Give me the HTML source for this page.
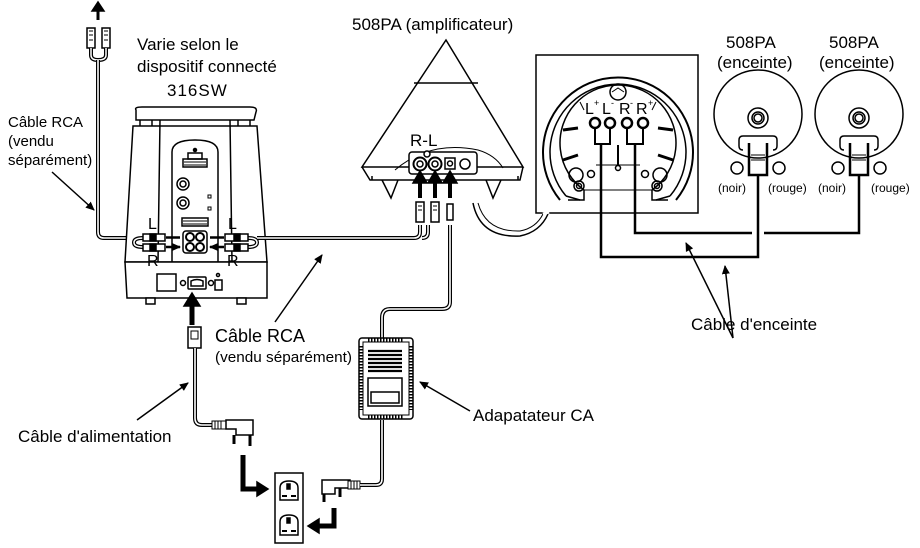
<!DOCTYPE html>
<html><head><meta charset="utf-8"><style>
html,body{margin:0;padding:0;background:#fff}
svg{display:block}
text{font-family:"Liberation Sans",Arial,sans-serif;fill:#000}
</style></head><body>
<svg width="920" height="548" viewBox="0 0 920 548" xmlns="http://www.w3.org/2000/svg">
<defs>
<marker id="ah" markerWidth="10" markerHeight="10" refX="8" refY="5" orient="auto" markerUnits="userSpaceOnUse"><path d="M0,1 L9,5 L0,9 Z" fill="#000"/></marker>
</defs>
<g fill="none" stroke="#000" stroke-width="1.5">

<!-- top-left RCA -->
<path d="M98,20 V10" stroke-width="3"/><path d="M92,11 L98,2 L104,11 Z" fill="#000"/>
<rect x="87" y="28" width="8" height="20" fill="#fff"/><rect x="102" y="28" width="8" height="20" fill="#fff"/>
<path d="M89,31h4M89,35h4M89,40h4M104,31h4M104,35h4M104,40h4" stroke-width="1"/>
<path d="M91,48 V55 Q91,60 98,60 Q106,60 106,55 V48" stroke-width="4"/>
<path d="M91,48 V55 Q91,60 98,60 Q106,60 106,55 V48" stroke="#fff" stroke-width="1.5"/>
<path d="M98,60 V232 Q98,238 104,238 H138" stroke-width="4"/>
<path d="M98,60 V232 Q98,238 104,238 H138" stroke="#fff" stroke-width="1.6"/>

<!-- subwoofer -->
<path d="M136,110 Q134,107 142,107 H250 Q258,107 256,112 L254,120 H136 Z" fill="#fff"/>
<path d="M140,120 V126 M250,120 V126 M152,120 V126 M238,120 V126"/>
<path d="M133,126 H257 L267,262 H125 Z" fill="#fff"/>
<path d="M160,120 L158,262 M230,120 L232,262"/>
<path d="M172,262 V152 Q172,140 195,140 Q218,140 218,152 V262" />
<path d="M125,262 H267 V298 H127 Z" fill="#fff"/>
<rect x="146" y="298" width="9" height="6" fill="#fff"/><rect x="237" y="298" width="9" height="6" fill="#fff"/>
<circle cx="195" cy="150" r="1.5" fill="#000"/>
<rect x="188" y="153" width="14" height="6"/><rect x="183" y="159" width="24" height="8"/>
<path d="M184,162h22M184,165h22" stroke-width="1"/>
<circle cx="183" cy="184" r="6"/><circle cx="183" cy="184" r="3"/>
<circle cx="183" cy="203" r="6"/><circle cx="183" cy="203" r="3"/>
<rect x="208" y="195" width="3" height="3" stroke-width="1"/><rect x="208" y="207" width="3" height="3" stroke-width="1"/>
<rect x="182" y="218" width="26" height="8"/><path d="M183,221h24M183,224h24" stroke-width="1"/>
<rect x="183" y="231" width="24" height="22" rx="3" fill="#fff"/>
<circle cx="190" cy="237" r="4" stroke-width="2"/><circle cx="200" cy="237" r="4" stroke-width="2"/>
<circle cx="190" cy="247" r="4" stroke-width="2"/><circle cx="200" cy="247" r="4" stroke-width="2"/>
<!-- left plugs -->
<path d="M143,238 Q134,238 134,242.5 Q134,247 143,247" stroke-width="4"/>
<path d="M143,238 Q134,238 134,242.5 Q134,247 143,247" stroke="#fff" stroke-width="1.5"/>
<rect x="143" y="234" width="22" height="7" fill="#fff"/><rect x="143" y="244" width="22" height="7" fill="#fff"/>
<rect x="150" y="234" width="6" height="7" fill="#000"/><rect x="150" y="244" width="6" height="7" fill="#000"/>
<path d="M166,237.5 H180 M166,247 H180" stroke-width="2.5" marker-end="url(#ah)"/>
<!-- right plugs -->
<path d="M248,238 Q257,238 257,242.5 Q257,247 248,247" stroke-width="4"/>
<path d="M248,238 Q257,238 257,242.5 Q257,247 248,247" stroke="#fff" stroke-width="1.5"/>
<rect x="225" y="234" width="23" height="7" fill="#fff"/><rect x="225" y="244" width="23" height="7" fill="#fff"/>
<rect x="234" y="234" width="6" height="7" fill="#000"/><rect x="234" y="244" width="6" height="7" fill="#000"/>
<path d="M224,237.5 H210 M224,247 H210" stroke-width="2.5" marker-end="url(#ah)"/>
<!-- base details -->
<rect x="157" y="274" width="19" height="17"/>
<circle cx="183" cy="283" r="2.5"/><rect x="188" y="277" width="18" height="12" rx="1"/>
<path d="M191,286 V281 Q197,278 203,281 V286 Z"/><circle cx="211" cy="283" r="2.5"/>
<rect x="215" y="280" width="7" height="10"/><circle cx="218" cy="275" r="1.5"/>
<!-- big up arrow -->
<path d="M192,325 V304" stroke-width="5"/><path d="M184,306 L192,293 L200,306 Z" fill="#000"/>

<!-- cable sub->amp -->
<path d="M257,238 H414 Q420,238 420,232 V225" stroke-width="4"/>
<path d="M257,238 H414 Q420,238 420,232 V225" stroke="#fff" stroke-width="1.6"/>
<path d="M428,225 V232 Q428,238 422,238" stroke-width="4"/>
<path d="M428,225 V232 Q428,238 422,238" stroke="#fff" stroke-width="1.6"/>

<!-- power cord -->
<rect x="188" y="327" width="13" height="21" fill="#fff"/><path d="M191,331h7v8h-7z" stroke-width="1"/>
<path d="M195,348 V418 Q195,425 202,425 H215" stroke-width="4"/>
<path d="M195,348 V418 Q195,425 202,425 H215" stroke="#fff" stroke-width="1.6"/>
<rect x="212" y="421" width="14" height="8" fill="#fff" stroke-width="1"/><path d="M215,421v8M218,421v8M221,421v8" stroke-width="1"/>
<path d="M226,420 H253 V435 H236 V429 H226 Z" fill="#fff"/>
<path d="M234,435 V444 M250,435 V446" stroke-width="3"/>
<!-- bent arrows -->
<path d="M243,455 V489 H258" stroke-width="5"/><path d="M257,482 L268,489 L257,496 Z" fill="#000"/>
<path d="M334,508 V526 H318" stroke-width="5"/><path d="M319,519 L308,526 L319,533 Z" fill="#000"/>
<!-- outlet -->
<rect x="275" y="473" width="28" height="70" fill="#fff"/>
<path d="M280,500 V488 Q280,481 289,481 Q298,481 298,488 V500 Z"/><rect x="287" y="484" width="3" height="5" fill="#000"/><path d="M282,496h5M291,496h5" stroke-width="2"/>
<path d="M280,535 V522 Q280,515 289,515 Q298,515 298,522 V535 Z"/><rect x="287" y="518" width="3" height="5" fill="#000"/><path d="M282,531h5M291,531h5" stroke-width="2"/>
<!-- adapter plug -->
<path d="M322,480 H350 V488 H335 V494 H322 Z" fill="#fff"/>
<path d="M324,494 V502 M340,488 V497" stroke-width="3"/>
<rect x="348" y="481" width="12" height="8" fill="#fff" stroke-width="1"/><path d="M351,481v8M354,481v8M357,481v8" stroke-width="1"/>
<path d="M360,485 H376 Q382,485 382,479 V420" stroke-width="4"/>
<path d="M360,485 H376 Q382,485 382,479 V420" stroke="#fff" stroke-width="1.6"/>
<!-- adapter -->
<path d="M382,338 V318 Q382,309 390,309 H442 Q450,309 450,302 V225" stroke-width="4"/>
<path d="M382,338 V318 Q382,309 390,309 H442 Q450,309 450,302 V225" stroke="#fff" stroke-width="1.6"/>
<rect x="359" y="338" width="54" height="81" rx="3" fill="#fff"/>
<rect x="363" y="342" width="46" height="73" stroke-width="1"/>
<path d="M361,346 V410 M411,346 V410" stroke-width="3" stroke-dasharray="1.5,1.5"/>
<path d="M368,340 H404 M368,417 H404" stroke-width="3" stroke-dasharray="1.5,1.5"/>
<path d="M368,351h34M368,355h34M368,359h34M368,363h34M368,367h34M368,371h34" stroke-width="2.2"/>
<rect x="368" y="378" width="34" height="28"/><rect x="371" y="392" width="28" height="11"/>
<path d="M470,411 L420,382" marker-end="url(#ah)"/>

<!-- amplifier -->
<path d="M446,40 L523,167 H362 Z" fill="#fff"/>
<path d="M414,83 H478"/>
<path d="M362,167 L370,180 H520 L523,167"/>
<path d="M372,180 V176 M518,180 V176"/>
<path d="M382,180 L391,198 L398,180 M486,180 L493,198 L501,180"/>
<path d="M395,170 Q430,140 478,150 Q495,155 503,168" stroke-width="1"/>
<rect x="409" y="152" width="68" height="22" rx="3" fill="#fff"/>
<circle cx="420" cy="164" r="6.5" stroke-width="2"/><circle cx="420" cy="164" r="3"/>
<circle cx="435" cy="164" r="6.5" stroke-width="2"/><circle cx="435" cy="164" r="3"/>
<rect x="445" y="158" width="10" height="11"/><circle cx="450" cy="163.5" r="2.5"/>
<circle cx="465" cy="164" r="5"/>
<circle cx="427" cy="154" r="3" fill="#fff"/>
<path d="M420,198 V181 M435,198 V181 M450,198 V181" stroke-width="4"/>
<path d="M413,183 L420,171 L427,183 Z M428,183 L435,171 L442,183 Z M443,183 L450,171 L457,183 Z" fill="#000"/>
<rect x="416" y="202" width="8" height="20" fill="#fff"/><rect x="431" y="202" width="8" height="20" fill="#fff"/><rect x="447" y="204" width="6" height="16" fill="#fff"/>
<path d="M418,206h4M418,210h4M433,206h4M433,210h4" stroke-width="1"/>
<!-- callout curves -->
<path d="M473,203 Q480,238 520,236 Q540,232 548,214"/>
<path d="M478,203 Q486,232 520,231 Q536,228 543,214" stroke-width="1"/>

<!-- box -->
<rect x="536" y="55" width="162" height="158" fill="#fff"/>
<path d="M543,214 L549,212" stroke="#fff" stroke-width="3"/>
<path d="M560,200 A75,75 0 1 1 676,200" stroke-width="2"/>
<path d="M566,196 A68,68 0 1 1 670,196"/>
<path d="M580,200 L566,196 M656,200 L670,196"/>
<path d="M568,200 H584 V190 A58,58 0 1 1 652,190 V200 H668" />
<path d="M584,190 H652" stroke-width="1"/>
<circle cx="618" cy="92" r="8"/><path d="M612,92 L618,88 L624,92" stroke-width="1"/>
<circle cx="576" cy="175" r="7"/><circle cx="660" cy="175" r="7"/>
<circle cx="579" cy="186" r="5"/><circle cx="579" cy="186" r="2.5"/>
<circle cx="657" cy="186" r="5"/><circle cx="657" cy="186" r="2.5"/>
<circle cx="591" cy="174" r="3.5" fill="#fff"/><circle cx="645" cy="174" r="3.5" fill="#fff"/>
<path d="M563,130 L578,128 M563,160 L578,155 M673,130 L658,128 M673,160 L658,155" stroke-width="3"/>
<path d="M584,110 L580,102 M652,110 L656,102" stroke-width="1"/>
<path d="M596,165 H640" stroke-width="1"/><path d="M618,145 V167" stroke-width="2"/><circle cx="618" cy="168" r="2.5" fill="#fff"/>
<circle cx="595" cy="123" r="5" stroke-width="2.5"/><circle cx="610" cy="123" r="5" stroke-width="2.5"/>
<circle cx="627" cy="123" r="5" stroke-width="2.5"/><circle cx="643" cy="123" r="5" stroke-width="2.5"/>
<path d="M595,128 V144 H610 V128 M627,128 V144 H643 V128" stroke-width="2"/>
<!-- speaker cables -->
<path d="M601,144 V257 H758 V175" stroke-width="2.5"/>
<path d="M635,144 V233 H752 M764,233 H859 V175" stroke-width="2.5"/>
<path d="M733,338 L686,243" marker-end="url(#ah)"/>
<path d="M733,338 L725,266" marker-end="url(#ah)"/>

<!-- speakers -->
<g>
<circle cx="758" cy="114" r="44" fill="#fff"/>
<circle cx="758" cy="118" r="10"/><circle cx="758" cy="118" r="6"/><circle cx="758" cy="118" r="4"/>
<path d="M743,150 Q739,150 739,146 V140 Q739,136 743,136 H773 Q777,136 777,140 V146 Q777,150 773,150" fill="#fff"/>
<path d="M749,143 V175 H767 V143" stroke-width="2.5"/>
<path d="M751,155 H765 M751,160 H765" stroke-width="1"/>
<circle cx="737" cy="168" r="6"/><circle cx="779" cy="168" r="6"/>
</g>
<g transform="translate(101,0)">
<circle cx="758" cy="114" r="44" fill="#fff"/>
<circle cx="758" cy="118" r="10"/><circle cx="758" cy="118" r="6"/><circle cx="758" cy="118" r="4"/>
<path d="M743,150 Q739,150 739,146 V140 Q739,136 743,136 H773 Q777,136 777,140 V146 Q777,150 773,150" fill="#fff"/>
<path d="M749,143 V175 H767 V143" stroke-width="2.5"/>
<path d="M751,155 H765 M751,160 H765" stroke-width="1"/>
<circle cx="737" cy="168" r="6"/><circle cx="779" cy="168" r="6"/>
</g>

<!-- label arrows -->
<path d="M52,172 L94,210" marker-end="url(#ah)"/>
<path d="M275,322 L322,255" marker-end="url(#ah)"/>
<path d="M137,420 L188,383" marker-end="url(#ah)"/>
</g>

<!-- texts -->
<text x="137" y="50" font-size="17">Varie selon le</text>
<text x="137" y="72" font-size="17">dispositif connecté</text>
<text x="167" y="96" font-size="17" letter-spacing="1">316SW</text>
<text x="8" y="127" font-size="15">Câble RCA</text>
<text x="8" y="146" font-size="15">(vendu</text>
<text x="8" y="165" font-size="15">séparément)</text>
<text x="148" y="229" font-size="16">L</text><text x="228" y="229" font-size="16">L</text>
<text x="147" y="266" font-size="16">R</text><text x="227" y="266" font-size="16">R</text>
<text x="215" y="342" font-size="18">Câble RCA</text>
<text x="215" y="362" font-size="15" textLength="137" lengthAdjust="spacingAndGlyphs">(vendu séparément)</text>
<text x="18" y="442" font-size="17">Câble d'alimentation</text>
<text x="473" y="421" font-size="17">Adapatateur CA</text>
<text x="352" y="30" font-size="17">508PA (amplificateur)</text>
<text x="410" y="146" font-size="17">R-L</text>
<text x="726" y="48" font-size="17">508PA</text>
<text x="717" y="68" font-size="17">(enceinte)</text>
<text x="829" y="48" font-size="17">508PA</text>
<text x="819" y="68" font-size="17">(enceinte)</text>
<text x="718" y="192" font-size="12">(noir)</text>
<text x="768" y="192" font-size="12">(rouge)</text>
<text x="818" y="192" font-size="12">(noir)</text>
<text x="871" y="192" font-size="12">(rouge)</text>
<text x="691" y="330" font-size="17">Câble d'enceinte</text>
<text x="585" y="114" font-size="16">L</text><text x="594" y="106" font-size="9">+</text>
<text x="602" y="114" font-size="16">L</text><text x="611" y="106" font-size="9">-</text>
<text x="619" y="114" font-size="16">R</text><text x="630" y="106" font-size="9">-</text>
<text x="636" y="114" font-size="16">R</text><text x="648" y="106" font-size="9">+</text>
</svg>
</body></html>
